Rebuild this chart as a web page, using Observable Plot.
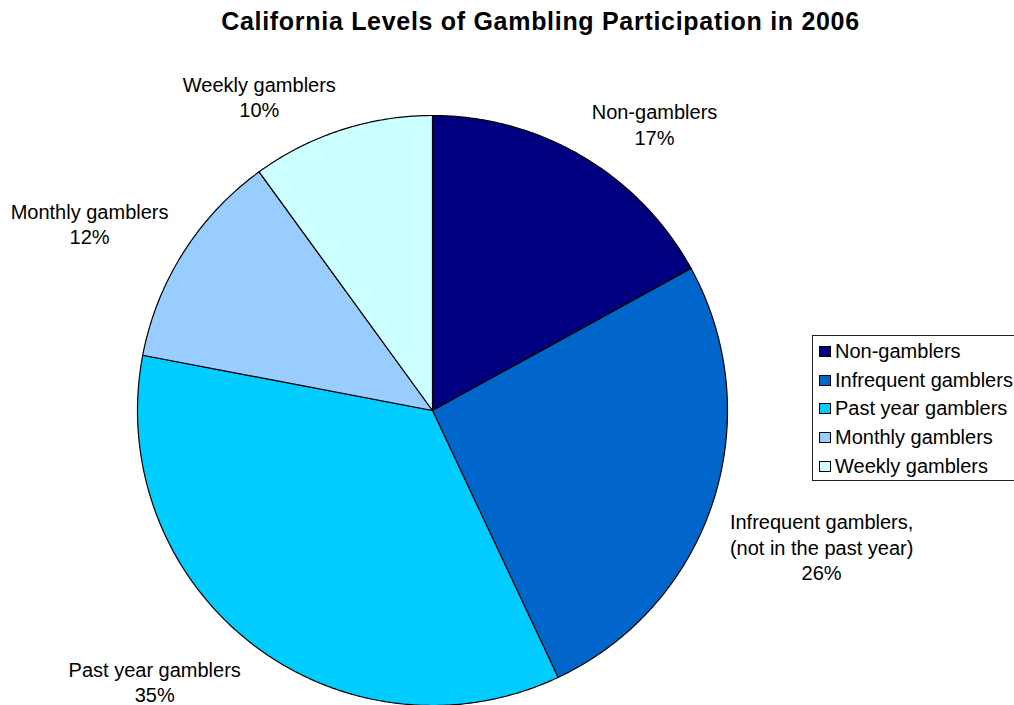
<!DOCTYPE html>
<html>
<head>
<meta charset="utf-8">
<script src="https://cdn.jsdelivr.net/npm/d3@7"></script>
<script src="https://cdn.jsdelivr.net/npm/@observablehq/plot@0.6"></script>
<style>
  html, body { margin: 0; padding: 0; background: #fff; }
  #wrap { position: relative; width: 1014px; height: 705px; overflow: hidden; font-family: "Liberation Sans", Arial, sans-serif; }
  #legend { position: absolute; left: 812px; top: 335px; width: 215px; height: 146px; border: 1px solid #222; background: #fff; box-sizing: border-box; padding-top: 1px; }
  .item { height: 28.7px; display: flex; align-items: center; font-size: 20px; color: #000; white-space: nowrap; }
  .sw { width: 12px; height: 11px; border: 1px solid #000; box-sizing: border-box; margin-left: 6px; margin-right: 4px; flex: none; }
</style>
</head>
<body>
<div id="wrap"></div>
<script>
const title = "California Levels of Gambling Participation in 2006";
const categories = ["Non-gamblers", "Infrequent gamblers", "Past year gamblers", "Monthly gamblers", "Weekly gamblers"];
const labelTexts = ["Non-gamblers", "Infrequent gamblers,\n(not in the past year)", "Past year gamblers", "Monthly gamblers", "Weekly gamblers"];
const percents = [17, 26, 35, 12, 10];
const colors = ["#000080", "#0066CC", "#00CCFF", "#99CCFF", "#CCFFFF"];

const font = '"Liberation Sans", Arial, sans-serif';
const fontSize = 20;
const lineH = 25.5;

// slice geometry (angles clockwise from top)
const total = d3.sum(percents);
let acc = 0;
const slices = categories.map((c, i) => {
  const a0 = acc / total * 2 * Math.PI;
  acc += percents[i];
  const a1 = acc / total * 2 * Math.PI;
  return {cat: c, a0, a1, mid: (a0 + a1) / 2, label: labelTexts[i] + "\n" + percents[i] + "%"};
});

const poly = [];
for (const s of slices) {
  poly.push({cat: s.cat, x: 0, y: 0});
  const n = Math.max(2, Math.ceil((s.a1 - s.a0) / (Math.PI / 360)));
  for (let k = 0; k <= n; k++) {
    const a = s.a0 + (s.a1 - s.a0) * k / n;
    poly.push({cat: s.cat, x: Math.sin(a), y: Math.cos(a)});
  }
  poly.push({cat: s.cat, x: 0, y: 0});
}

// label placement: anchor just outside the rim, box pushed outward
const R = 295;
const ctx = document.createElement("canvas").getContext("2d");
ctx.font = `${fontSize}px ${font}`;
const labels = slices.map(s => {
  const lines = s.label.split("\n");
  const w = d3.max(lines, l => ctx.measureText(l).width) / R;
  const h = lines.length * lineH / R;
  const sx = Math.sin(s.mid), cy = Math.cos(s.mid);
  const px = sx * 1.06, py = cy * 1.04 - 0.01;
  return {text: s.label, x: px + Math.sign(sx) * w / 2, y: py + Math.sign(cy) * h / 2};
});

const chart = Plot.plot({
  width: 1014,
  height: 705,
  margin: 0,
  style: {fontFamily: font, background: "#fff"},
  x: {domain: [-1, 1], range: [432 - R, 432 + R], axis: null},
  y: {domain: [-1, 1], range: [410 + R, 410 - R], axis: null},
  color: {domain: categories, range: colors, type: "ordinal"},
  marks: [
    Plot.line(poly, {x: "x", y: "y", z: "cat", fill: "cat", stroke: "#000", strokeWidth: 1.2, curve: "linear"}),
    Plot.text(labels, {x: "x", y: "y", text: "text", fontSize: fontSize, lineHeight: lineH / fontSize, textAnchor: "middle", lineAnchor: "middle", fill: "#000"}),
    Plot.text([title], {frameAnchor: "top", text: d => d, dx: 33, dy: 12, fontSize: 25, fontWeight: "bold", lineAnchor: "top", fill: "#000"})
  ]
});

const wrap = document.getElementById("wrap");
wrap.appendChild(chart);
chart.querySelectorAll("text").forEach(t => { if (t.textContent === title) t.setAttribute("letter-spacing", "0.7"); });

const color = chart.scale("color");
const legend = document.createElement("div");
legend.id = "legend";
color.domain.forEach((c, i) => {
  const item = document.createElement("div");
  item.className = "item";
  const sw = document.createElement("span");
  sw.className = "sw";
  sw.style.background = color.range[i];
  const t = document.createElement("span");
  t.textContent = c;
  item.appendChild(sw);
  item.appendChild(t);
  legend.appendChild(item);
});
wrap.appendChild(legend);
</script>
</body>
</html>
